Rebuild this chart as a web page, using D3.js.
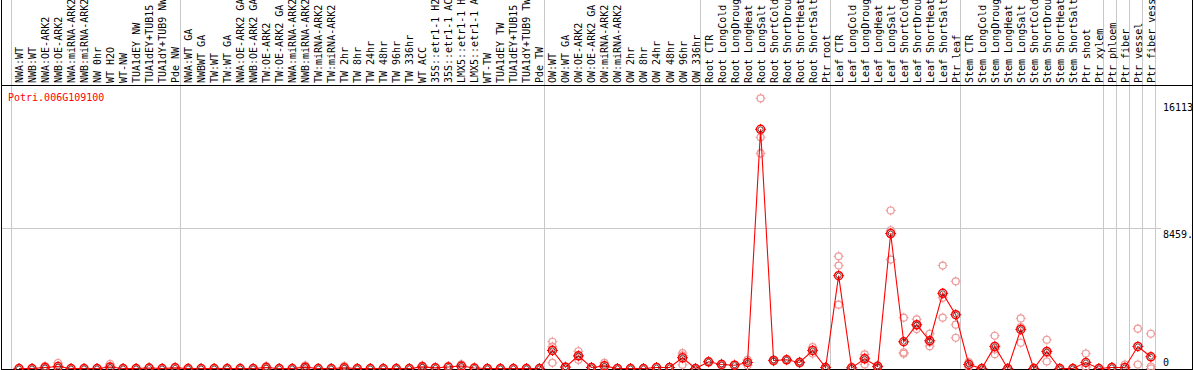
<!DOCTYPE html>
<html>
<head>
<meta charset="utf-8">
<script src="https://cdn.jsdelivr.net/npm/d3@7"></script>
<style>
  html, body { margin: 0; padding: 0; background: #fff; }
  svg text { font-family: "DejaVu Sans Mono", "Liberation Mono", monospace; font-size: 10px; }
</style>
</head>
<body>
<script>
// column labels (one per sample)
var labels = [
  "NWA:WT", "NWB:WT", "NWA:OE-ARK2", "NWB:OE-ARK2", "NWA:miRNA-ARK2", "NWB:miRNA-ARK2",
  "NW 0hr", "WT H2O", "WT-NW", "TUA1dEY NW", "TUA1dEY+TUB15 NW", "TUA1dY+TUB9 NW", "Pde NW",
  "NWA:WT GA", "NWBWT GA", "TW:WT", "TW:WT GA", "NWA:OE-ARK2 GA", "NWB:OE-ARK2 GA",
  "TW:OE-ARK2", "TW:OE-ARK2 GA", "NWA:miRNA-ARK2", "NWB:miRNA-ARK2", "TW:miRNA-ARK2",
  "TW:miRNA-ARK2", "TW 2hr", "TW 8hr", "TW 24hr", "TW 48hr", "TW 96hr", "TW 336hr",
  "WT ACC", "35S::etr1-1 H2O", "35S::etr1-1 ACC", "LMX5::etr1-1 H2O", "LMX5::etr1-1 ACC",
  "WT-TW", "TUA1dEY TW", "TUA1dEY+TUB15 TW", "TUA1dY+TUB9 TW", "Pde TW",
  "OW:WT", "OW:WT GA", "OW:OE-ARK2", "OW:OE-ARK2 GA", "OW:miRNA-ARK2", "OW:miRNA-ARK2",
  "OW 2hr", "OW 8hr", "OW 24hr", "OW 48hr", "OW 96hr", "OW 336hr",
  "Root CTR", "Root LongCold", "Root LongDrought", "Root LongHeat", "Root LongSalt",
  "Root ShortCold", "Root ShortDrought", "Root ShortHeat", "Root ShortSalt", "Ptr root",
  "Leaf CTR", "Leaf LongCold", "Leaf LongDrought", "Leaf LongHeat", "Leaf LongSalt",
  "Leaf ShortCold", "Leaf ShortDrought", "Leaf ShortHeat", "Leaf ShortSalt", "Ptr leaf",
  "Stem CTR", "Stem LongCold", "Stem LongDrought", "Stem LongHeat", "Stem LongSalt",
  "Stem ShortCold", "Stem ShortDrought", "Stem ShortHeat", "Stem ShortSalt", "Ptr shoot",
  "Ptr xylem", "Ptr phloem", "Ptr fiber", "Ptr vessel", "Ptr fiber vessel"
];

// mean expression per column
var means = [
  0, 0, 60, 120, 0, 0, 0, 90, 0, 0, 30, 0, 40,
  0, 0, 0, 0, 0, 0, 60, 0, 0, 80, 0, 0, 40, 0, 0, 0, 0, 0, 100, 40, 90, 150, 30, 0, 0, 0, 0, 0,
  1086, 80, 766, 60, 160, 0, 0, 0, 60, 60, 646, 0,
  404, 241, 200, 362, 14405, 483, 525, 362, 1086, 60,
  5594, 40, 585, 120, 8129, 1611, 2637, 1672, 4526, 3241,
  241, 0, 1328, 0, 2354, 0, 1026, 0, 0, 362, 0,
  60, 60, 1328, 706
];

// replicate values per column
var reps = [
  [0], [0], [150, 20], [330, 30], [0], [0], [0], [270, 0], [0], [0], [60], [0], [80],
  [0], [0], [0], [0], [0], [0], [150, 0], [0], [0], [180, 20], [0], [0], [150, 0], [0], [0], [0], [0], [0],
  [180, 40], [60], [140], [250, 60], [40], [0], [0], [0], [0], [0],
  [1611, 1320, 344], [120], [1040, 525, 735], [80], [344, 60], [0], [0], [0], [90], [80], [925, 790, 223], [0],
  [404], [300, 180], [220], [525, 200], [16276, 13923, 12957], [420, 540], [525], [420, 300], [1287, 900], [60],
  [6759, 6198, 3844], [40], [845, 241, 660], [200, 60], [9517, 8328, 6560], [3060, 966, 887],
  [2957, 2372, 2580], [2094, 1346, 1576], [6198, 4267, 3060], [5250, 2637, 1853],
  [380, 100], [0], [1973, 863, 1150], [0], [3017, 1551, 2490], [0], [1732, 422, 920], [0], [0],
  [905, 80, 100], [0],
  [80], [241], [2396, 241], [2094, 121, 0]
];

// first column of each block (last entry closes the table)
var groupStarts = [0, 13, 41, 53, 63, 73, 84, 85, 86, 87, 88];

var tickValues = [0, 8459, 16113];
var tickLabels = ["0", "8459.", "16113"];

var geneName = "Potri.006G109100";

var w = 1194, h = 370;
var headerH = 85;

var x = d3.scaleLinear()
  .domain([0, labels.length - 1])
  .range([19, 19 + 13.01 * (labels.length - 1)]);

var y = d3.scaleLinear()
  .domain([0, 16113])
  .range([368.5, 101]);

var svg = d3.select("body").append("svg")
  .attr("width", w)
  .attr("height", h);

// vertical block separators
svg.selectAll(".sep")
  .data(groupStarts)
  .enter().append("line")
  .attr("x1", function(d){ return Math.round(x(d) - 8.5) + 0.5; })
  .attr("x2", function(d){ return Math.round(x(d) - 8.5) + 0.5; })
  .attr("y1", 0)
  .attr("y2", h)
  .attr("stroke", "#c8c8c8")
  .attr("stroke-width", 1);

// horizontal gridline at the middle tick
svg.append("line")
  .attr("x1", 1)
  .attr("x2", 1161)
  .attr("y1", Math.round(y(tickValues[1])) + 0.5)
  .attr("y2", Math.round(y(tickValues[1])) + 0.5)
  .attr("stroke", "#c8c8c8");

// frame
svg.append("line").attr("x1", 1.5).attr("x2", 1.5).attr("y1", 0).attr("y2", h).attr("stroke", "#000");
svg.append("line").attr("x1", 1192.5).attr("x2", 1192.5).attr("y1", 0).attr("y2", h).attr("stroke", "#000");
svg.append("line").attr("x1", 1).attr("x2", 1193).attr("y1", headerH + 0.5).attr("y2", headerH + 0.5).attr("stroke", "#000");
svg.append("line").attr("x1", 1).attr("x2", 1193).attr("y1", 369.5).attr("y2", 369.5).attr("stroke", "#000");

// column labels
svg.selectAll(".col-label")
  .data(labels)
  .enter().append("text")
  .classed("col-label", true)
  .attr("transform", function(d, i){
    return "translate(" + (x(i) + 4) + "," + 83 + ") rotate(-90)";
  })
  .attr("fill", "#000")
  .text(function(d){ return d; });

// gene name
svg.append("text")
  .attr("x", 8)
  .attr("y", 101)
  .attr("fill", "#ff0000")
  .text(geneName);

// right-hand value labels
var clip = svg.append("clipPath").attr("id", "clipR");
clip.append("rect").attr("x", 0).attr("y", 0).attr("width", 1192).attr("height", h);

svg.append("g")
  .attr("clip-path", "url(#clipR)")
  .selectAll("text")
  .data(tickValues)
  .enter().append("text")
  .attr("x", 1163)
  .attr("y", function(d, i){
    return i === 0 ? 366 : y(d) + 9.5;
  })
  .attr("fill", "#000")
  .text(function(d, i){ return tickLabels[i]; });

// marker: circle with small ticks
function marker(sel, r, color, width){
  sel.append("circle")
    .attr("r", r)
    .attr("fill", "none")
    .attr("stroke", color)
    .attr("stroke-width", width);
  sel.append("path")
    .attr("d", "M0," + (-r - 1.5) + "V" + (-r + 0.5) +
               "M0," + (r - 0.5) + "V" + (r + 1.5) +
               "M" + (-r - 1.5) + ",0H" + (-r + 0.5) +
               "M" + (r - 0.5) + ",0H" + (r + 1.5))
    .attr("stroke", color)
    .attr("stroke-width", 1);
}

var plot = svg.append("g").attr("clip-path", "url(#clipR)");

// replicates
var repPoints = [];
reps.forEach(function(list, i){
  list.forEach(function(v){ repPoints.push({i: i, v: v}); });
});

plot.selectAll(".rep")
  .data(repPoints)
  .enter().append("g")
  .classed("rep", true)
  .attr("transform", function(d){ return "translate(" + x(d.i) + "," + y(d.v) + ")"; })
  .each(function(){ marker(d3.select(this), 3.5, "#ee9a9a", 1.2); });

// mean line
var line = d3.line()
  .x(function(d, i){ return x(i); })
  .y(function(d){ return y(d); });

plot.append("path")
  .datum(means)
  .attr("d", line)
  .attr("fill", "none")
  .attr("stroke", "#ff0000")
  .attr("stroke-width", 1.1);

// mean markers
var m = plot.selectAll(".mean")
  .data(means)
  .enter().append("g")
  .classed("mean", true)
  .attr("transform", function(d, i){ return "translate(" + x(i) + "," + y(d) + ")"; });

m.each(function(){ marker(d3.select(this), 4, "#ff0000", 1.5); });
m.append("circle")
  .attr("r", 2.5)
  .attr("fill", "none")
  .attr("stroke", "#300")
  .attr("stroke-width", 0.7);
</script>
</body>
</html>
